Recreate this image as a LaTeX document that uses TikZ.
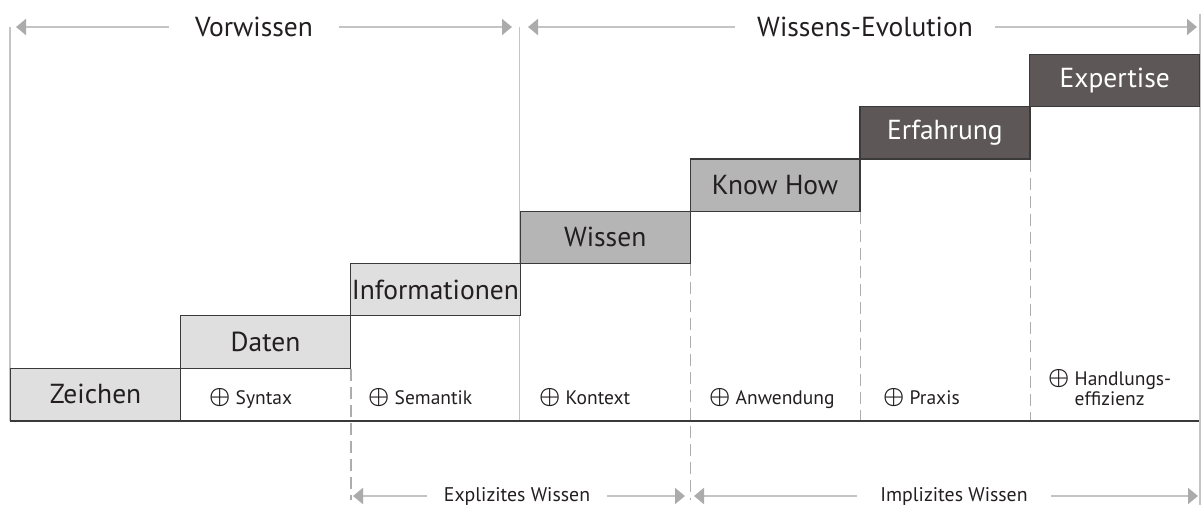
\documentclass[tikz,border=0pt]{standalone}
\usepackage{fix-cm}
\usepackage{fontspec}
\usepackage{graphicx}
\setmainfont{PT Sans}
\usetikzlibrary{arrows.meta}

\definecolor{ink}{HTML}{231F20}
\definecolor{boxlight}{HTML}{DFDFDF}
\definecolor{boxmid}{HTML}{B5B5B5}
\definecolor{boxdark}{HTML}{5D5857}
\definecolor{edgecol}{HTML}{3A3A3A}
\definecolor{rulecol}{HTML}{C4C4C4}
\definecolor{tipcol}{HTML}{ABABAB}
\definecolor{dashcol}{HTML}{ADADAD}

% circled plus in front of each gain
\newcommand{\plusmark}{\raisebox{0.3pt}{\scalebox{1.22}{\boldmath$\oplus$}}}

\tikzset{
  stage/.style={draw=edgecol, line width=1.2pt, minimum width=169.9pt,
    minimum height=52.3pt, inner sep=0pt, anchor=south west,
    font=\fontsize{27.5}{29}\selectfont, text=ink},
  lightstage/.style={stage, fill=boxlight},
  midstage/.style={stage, fill=boxmid},
  darkstage/.style={stage, fill=boxdark, text=white},
  gain/.style={anchor=base west, inner sep=0pt, text=ink,
    font=\fontsize{19.5}{20}\selectfont},
  phaselabel/.style={inner ysep=0pt, text=ink, font=\fontsize{27.5}{29}\selectfont},
  kindlabel/.style={inner ysep=0pt, text=ink, font=\fontsize{19.8}{21}\selectfont},
  spanline/.style={draw=rulecol, line width=2pt,
    -{Triangle[length=10pt,width=16pt,color=tipcol]}},
  guide/.style={draw=rulecol, line width=1.5pt},
  dashguide/.style={draw=dashcol, line width=1.5pt, dash pattern=on 12pt off 6pt},
}

\begin{document}
\begin{tikzpicture}[x=1pt,y=-1pt]
\useasboundingbox (0,0) rectangle (1201,506);

% solid guide lines framing the two phases
\draw[guide] (10,27) -- (10,421);
\draw[guide] (519.5,27) -- (519.5,421);
\draw[guide] (1200,14) -- (1200,505);

% the staircase of stages
\node[lightstage] (zeichen)   at (10,421)      {Zeichen};
\node[lightstage] (daten)     at (179.9,368.7) {Daten};
\node[lightstage] (info)      at (349.8,316.4) {Informationen};
\node[midstage]   (wissen)    at (519.6,264.1) {Wissen};
\node[midstage]   (knowhow)   at (689.5,211.9) {Know How};
\node[darkstage]  (erfahrung) at (859.4,159.6) {Erfahrung};
\node[darkstage]  (expertise) at (1029.2,107.3) {Expertise};

% dashed column separators
\draw[dashguide] (daten.south east) -- (daten.south east |- 0,500);
\draw[dashguide] (wissen.south east) -- (wissen.south east |- 0,500);
\draw[dashguide] (knowhow.south east) -- (knowhow.south east |- 0,421);
\draw[dashguide] (erfahrung.south east) -- (erfahrung.south east |- 0,421);

% base line
\coordinate (baseR) at (1199,421);
\draw[draw=edgecol, line width=2pt] (zeichen.south west) -- (baseR);

% what each step adds
\node[gain] (syntax)    at (209,404) {\plusmark\ Syntax};
\node[gain] (semantik)  at (368,404) {\plusmark\ Semantik};
\node[gain] (kontext)   at (539,404) {\plusmark\ Kontext};
\node[gain] (anwendung) at (709,404) {\plusmark\ Anwendung};
\node[gain] (praxis)    at (883,404) {\plusmark\ Praxis};
\node[gain] (handlung)  at (1048,385)
  {\begin{tabular}[t]{@{}l@{}}\plusmark\ Handlungs-\\\hphantom{\plusmark\ }effizienz\end{tabular}};

% phases along the top
\node[phaselabel, inner xsep=26pt] (vorwissen) at (254,27) {Vorwissen};
\coordinate (vorL) at (16,27);
\coordinate (vorR) at (512,27);
\draw[spanline] (vorwissen.west) -- (vorL);
\draw[spanline] (vorwissen.east) -- (vorR);

\node[phaselabel, inner xsep=22pt] (evolution) at (865,27) {Wissens-Evolution};
\coordinate (evoL) at (528,27);
\coordinate (evoR) at (1197,27);
\draw[spanline] (evolution.west) -- (evoL);
\draw[spanline] (evolution.east) -- (evoR);

% kinds of knowledge along the bottom
\node[kindlabel, inner xsep=17pt] (explizit) at (517,496) {Explizites Wissen};
\coordinate (expL) at (353,496);
\coordinate (expR) at (685,496);
\draw[spanline] (explizit.west) -- (expL);
\draw[spanline] (explizit.east) -- (expR);

\node[kindlabel, inner xsep=23pt] (implizit) at (954,496) {Implizites Wissen};
\coordinate (impL) at (694,496);
\coordinate (impR) at (1198,496);
\draw[spanline] (implizit.west) -- (impL);
\draw[spanline] (implizit.east) -- (impR);
\end{tikzpicture}
\end{document}
